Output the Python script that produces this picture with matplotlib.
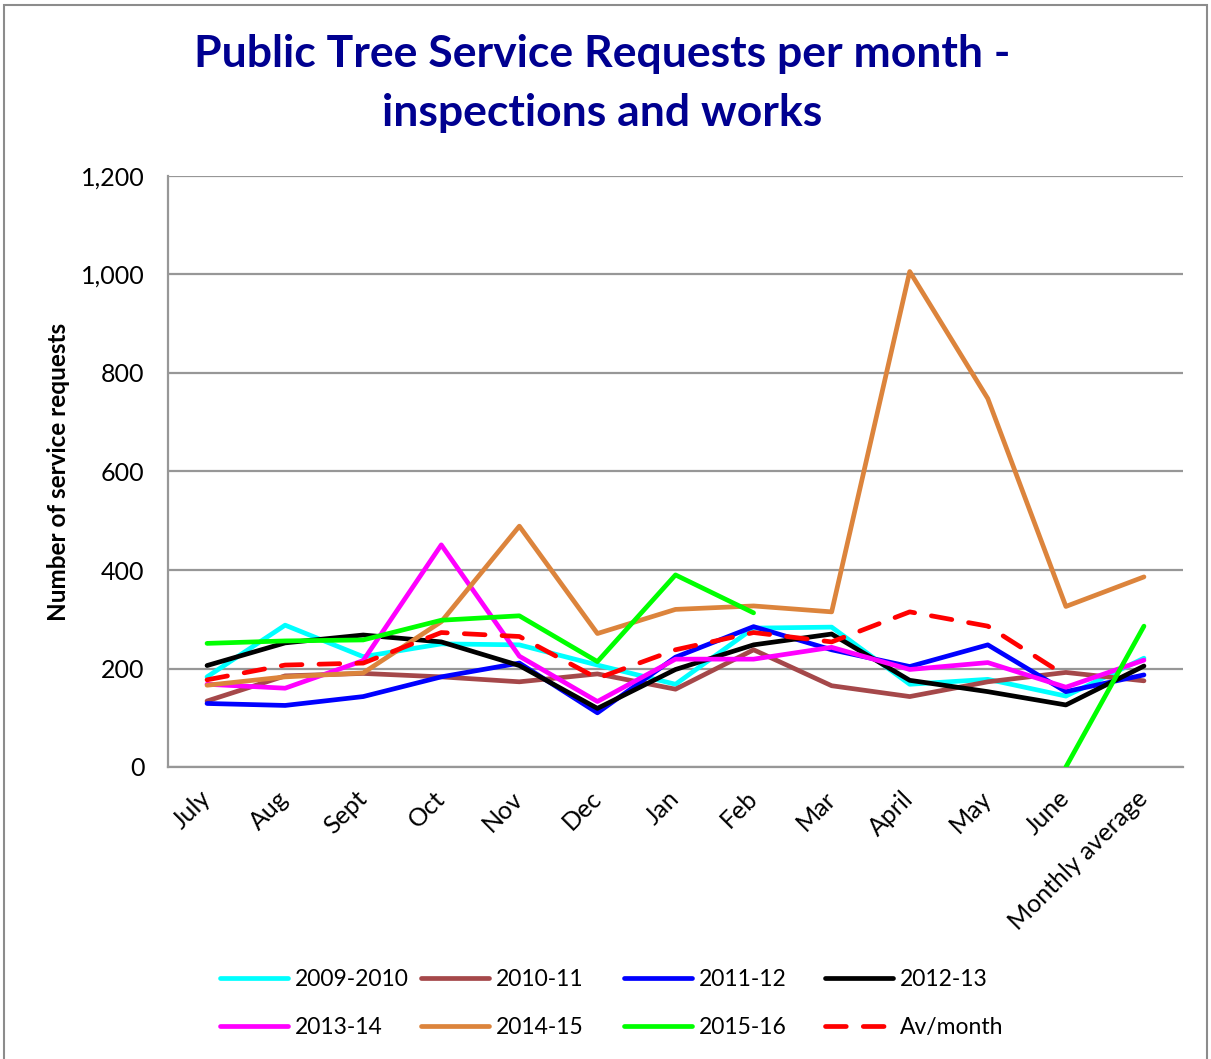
import numpy as np
import matplotlib
matplotlib.use("Agg")
import matplotlib.pyplot as plt
from matplotlib.patches import Rectangle
from matplotlib.ticker import FuncFormatter

plt.rcParams['font.family'] = ['Lato', 'DejaVu Sans']

months = ["July", "Aug", "Sept", "Oct", "Nov", "Dec", "Jan", "Feb",
          "Mar", "April", "May", "June", "Monthly average"]

nan = np.nan
s2009_10 = [183, 288, 224, 250, 248, 207, 168, 282, 284, 168, 178, 144, 221]
s2010_11 = [134, 185, 190, 183, 173, 189, 158, 238, 165, 143, 173, 192, 175]
s2011_12 = [129, 125, 143, 183, 211, 110, 223, 285, 238, 204, 248, 153, 187]
s2012_13 = [206, 252, 268, 254, 206, 119, 198, 248, 270, 176, 153, 126, 205]
s2013_14 = [168, 160, 216, 451, 225, 133, 219, 219, 243, 198, 212, 162, 217]
s2014_15 = [166, 183, 191, 295, 489, 271, 320, 327, 315, 1006, 748, 326, 386]
s2015_16 = [251, 256, 258, 298, 307, 214, 390, 313, nan, nan, nan, 0, 286]
av_month = [177, 207, 211, 273, 265, 180, 238, 273, 254, 315, 286, 185, nan]

series = [
    ("2009-2010", s2009_10, "#00FFFF", "-"),
    ("2010-11", s2010_11, "#A5484A", "-"),
    ("2011-12", s2011_12, "#0000FF", "-"),
    ("2012-13", s2012_13, "#000000", "-"),
    ("2013-14", s2013_14, "#FF00FF", "-"),
    ("2014-15", s2014_15, "#DC843C", "-"),
    ("2015-16", s2015_16, "#00FF00", "-"),
    ("Av/month", av_month, "#FF0000", "--"),
]

W, H = 1211, 1059
fig = plt.figure(figsize=(W / 100, H / 100), dpi=100)
ax = fig.add_axes([168 / W, 1 - 767 / H, (1183 - 168) / W, (767 - 176) / H])

# chart-area frame
fig.patches.append(Rectangle((4 / W, -0.01), 1203 / W, 1 - 5 / H + 0.01,
                             transform=fig.transFigure, fill=False,
                             edgecolor="#8C8C8C", linewidth=1.5))

x = np.arange(len(months))
handles = []
for label, vals, color, ls in series:
    if ls == "--":
        h, = ax.plot(x, vals, color=color, linewidth=3.4, linestyle=(0, (4.4, 3.6)),
                     dash_capstyle="round", label=label, zorder=4)
    else:
        h, = ax.plot(x, vals, color=color, linewidth=3.4, solid_capstyle="round",
                     label=label, zorder=3)
    handles.append(h)

ax.set_xlim(-0.5, len(months) - 0.5)
ax.set_ylim(0, 1200)
ax.set_yticks(np.arange(0, 1201, 200))
ax.yaxis.set_major_formatter(FuncFormatter(lambda v, p: f"{int(v):,}"))
ax.grid(axis="y", color="#979797", linewidth=1.6)
ax.set_axisbelow(True)
for side in ("top", "right"):
    ax.spines[side].set_visible(False)
for side in ("left", "bottom"):
    ax.spines[side].set_color("#979797")
    ax.spines[side].set_linewidth(1.6)
ax.tick_params(axis="both", length=0, labelsize=18, colors="black")
ax.tick_params(axis="y", pad=17)
ax.set_xticks(x)
ax.set_xticklabels(months, rotation=45, ha="right", va="center",
                   rotation_mode="anchor", fontsize=18)
ax.tick_params(axis="x", pad=20)

ax.set_ylabel("Number of service requests", fontsize=17.5, fontweight="bold", labelpad=8)

fig.text(0.497, 0.949, "Public Tree Service Requests per month -", ha="center", va="center",
         fontsize=32, fontweight="bold", color="#000090")
fig.text(0.497, 0.893, "inspections and works", ha="center", va="center",
         fontsize=32, fontweight="bold", color="#000090")

# legend laid out as four fixed-width columns of two rows
col_x = [220, 421, 624, 825]
for c in range(4):
    idx = [c, c + 4]
    leg = fig.legend([handles[i] for i in idx], [series[i][0] for i in idx],
                     loc="center left", bbox_to_anchor=(col_x[c] / W, 1 - 1003.5 / H),
                     frameon=False, fontsize=16.5, handlelength=2.95,
                     handletextpad=0.3, borderpad=0, borderaxespad=0,
                     labelspacing=1.17)

fig.savefig("out.png", dpi=100, facecolor="white")
